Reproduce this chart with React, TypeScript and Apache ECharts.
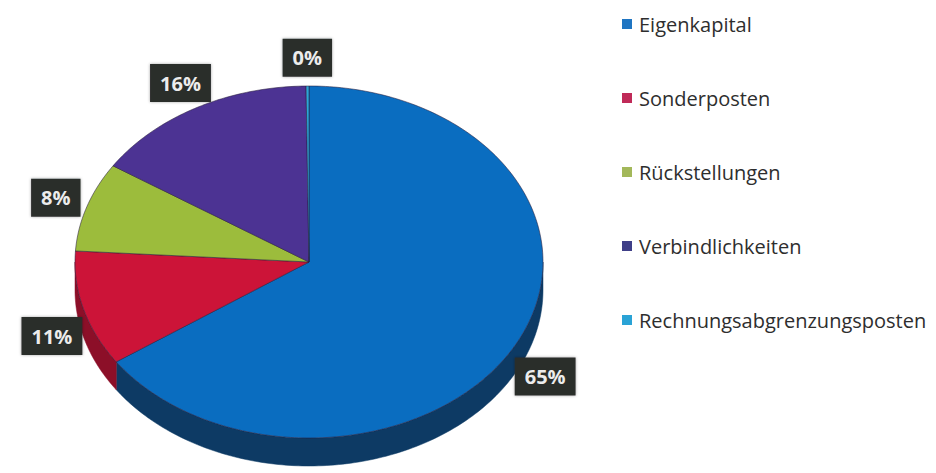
import React, { useEffect, useRef } from "react";
import * as echarts from "echarts";

const categories = [
  "Eigenkapital",
  "Sonderposten",
  "Rückstellungen",
  "Verbindlichkeiten",
  "Rechnungsabgrenzungsposten",
];
const values = [65.4, 10.6, 8.2, 15.6, 0.2];
const topColors = ["#0a6dc0", "#cc1438", "#9cbc3c", "#4c3393", "#2aa6d8"];
const sideColors = ["#0d3a64", "#8c0f28", "#6d862a", "#33226a", "#1b7aa0"];
const legendColors = ["#1f75c2", "#c02a58", "#a3b85a", "#3f3f88", "#2aa3d6"];

const CX = 309;
const CY = 262;
const RX = 234;
const RY = 176;
const DEPTH = 28;

const total = values.reduce((a, b) => a + b, 0);

function pt(deg: number, dy = 0): number[] {
  const r = (deg * Math.PI) / 180;
  return [CX + RX * Math.sin(r), CY - RY * Math.cos(r) + dy];
}

function arc(a: number, b: number, dy = 0): number[][] {
  const n = Math.max(2, Math.ceil(Math.abs(b - a)));
  const out: number[][] = [];
  for (let k = 0; k <= n; k++) out.push(pt(a + ((b - a) * k) / n, dy));
  return out;
}

export default function App() {
  const ref = useRef<HTMLDivElement>(null);
  useEffect(() => {
    if (!ref.current) return;
    const chart = echarts.init(ref.current, null, { renderer: "svg" });
    const series = categories.map((name, i) => ({
      type: "custom",
      name,
      coordinateSystem: "none",
      itemStyle: { color: legendColors[i] },
      data: [values[i]],
      renderItem: (params: any, api: any) => {
        const before = values.slice(0, i).reduce((a, b) => a + b, 0);
        const v = api.value(0);
        const start = (before / total) * 360;
        const end = start + (v / total) * 360;
        const children: any[] = [];
        const a = Math.max(start, 90);
        const b = Math.min(end, 270);
        if (b > a) {
          const pts = arc(a, b, 0).concat(arc(b, a, DEPTH));
          children.push({
            type: "polygon",
            z2: 1,
            shape: { points: pts },
            style: { fill: sideColors[i], stroke: sideColors[i], lineWidth: 0.5 },
          });
        }
        if (v > 0) {
          children.push({
            type: "polygon",
            z2: 10,
            shape: { points: [[CX, CY]].concat(arc(start, end, 0)) },
            style: { fill: topColors[i], stroke: "rgba(40,30,60,0.55)", lineWidth: 1 },
          });
        }
        const mid = (start + end) / 2;
        const r = (mid * Math.PI) / 180;
        const kx = 1.14;
        const ky = 1.16;
        let lx = CX + RX * kx * Math.sin(r);
        let ly = CY - RY * ky * Math.cos(r);
        if (Math.cos(r) < 0) ly += DEPTH * 0.7;
        children.push({
          type: "text",
          z2: 100,
          x: lx,
          y: ly,
          style: {
            text: Math.round((v / total) * 100) + "%",
            fill: "#ececec",
            fontFamily: "Open Sans",
            fontWeight: "bold",
            fontSize: 20,
            backgroundColor: "#2b2d2c",
            padding: [9, 10, 9, 10],
            align: "center",
            verticalAlign: "middle",
            shadowBlur: 3,
            shadowColor: "rgba(0,0,0,0.35)",
          },
        });
        return { type: "group", children };
      },
    }));
    chart.setOption({
      animation: false,
      backgroundColor: "#ffffff",
      legend: {
        data: categories,
        orient: "vertical",
        left: 622,
        top: 14,
        padding: 0,
        itemWidth: 10,
        itemHeight: 10,
        itemGap: 54,
        icon: "rect",
        itemStyle: { borderWidth: 0 },
        textStyle: {
          fontFamily: "Open Sans",
          fontSize: 20,
          lineHeight: 20,
          color: "#2e2e2e",
          padding: [0, 0, 0, 2],
        },
      },
      series,
    });
    return () => chart.dispose();
  }, []);
  return (
    <div
      ref={ref}
      style={{ position: "absolute", left: 0, top: 0, width: 936, height: 473 }}
    />
  );
}
